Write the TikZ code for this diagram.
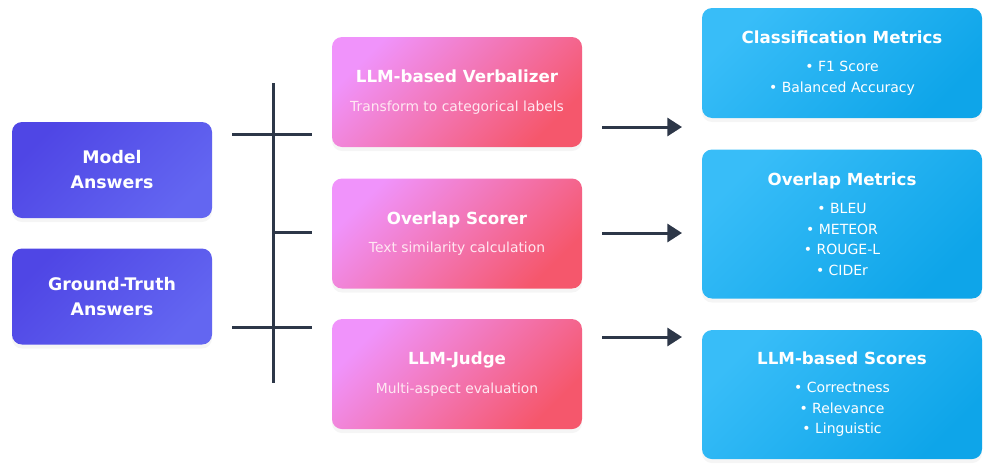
\documentclass[tikz,border=0pt]{standalone}
\usepackage{fontspec}
\setmainfont{DejaVu Sans}
\usetikzlibrary{positioning,arrows.meta,shadows}
\definecolor{inA}{HTML}{4F46E5}
\definecolor{inB}{HTML}{6366F1}
\definecolor{procA}{HTML}{F093FB}
\definecolor{procB}{HTML}{F5576C}
\definecolor{metA}{HTML}{38BDF8}
\definecolor{metB}{HTML}{0EA5E9}
\definecolor{subtxt}{RGB}{255,232,242}
\definecolor{linecol}{HTML}{2D3748}
\newcommand{\ttl}[1]{{\fontsize{12.5}{15}\selectfont\bfseries #1}}

\begin{document}
\begin{tikzpicture}[
  x=0.75pt, y=-0.75pt,
  node distance=23pt,
  every node/.style={font=\fontsize{10.4}{12}\selectfont, text=white},
  box/.style={rounded corners=7.5pt, align=center, inner sep=4pt,
    drop shadow={opacity=0.08, shadow xshift=0pt, shadow yshift=-3pt}},
  inbox/.style={box, left color=inA, right color=inB, shading angle=45,
    minimum width=150pt, minimum height=72pt, font=\fontsize{13}{18.75}\selectfont\bfseries},
  procbox/.style={box, left color=procA, right color=procB, shading angle=45,
    minimum width=187.5pt, minimum height=82.5pt},
  metbox/.style={box, left color=metA, right color=metB, shading angle=45,
    minimum width=210pt, font=\fontsize{10.5}{15.4}\selectfont},
  bus/.style={line width=2.25pt, linecol},
  arr/.style={-{Triangle[length=11pt, width=13.5pt]}, line width=2.25pt, linecol}
]
\useasboundingbox (0,0) rectangle (994,475);

% =================== inputs ===================
\node[inbox] (model) at (112,170) {Model\\Answers};
\node[inbox, below=22.5pt of model] (truth) {Ground-Truth\\Answers};

% =================== evaluators ===================
\node[procbox] (verb) at (457,92)
  {\ttl{LLM-based Verbalizer}\\[9.5pt]\color{subtxt}Transform to categorical labels};
\node[procbox, below=23.25pt of verb] (over)
  {\ttl{Overlap Scorer}\\[9.5pt]\color{subtxt}Text similarity calculation};
\node[procbox, below=22.5pt of over] (judge)
  {\ttl{LLM-Judge}\\[9.5pt]\color{subtxt}Multi-aspect evaluation};

% =================== metrics ===================
\node[metbox, minimum height=82.5pt] (cls) at (842,63)
  {\ttl{Classification Metrics}\\[5.6pt]• F1 Score\\• Balanced Accuracy};
\node[metbox, minimum height=111.75pt, below=23.25pt of cls] (olap)
  {\ttl{Overlap Metrics}\\[5.6pt]• BLEU\\• METEOR\\• ROUGE-L\\• CIDEr};
\node[metbox, minimum height=96.75pt, below=23.25pt of olap] (llms)
  {\ttl{LLM-based Scores}\\[5.6pt]• Correctness\\• Relevance\\• Linguistic};

% =================== fork lines ===================
\coordinate (bus top) at (273,83);
\coordinate (bus bot) at (273,383);
\coordinate (tap a) at (232,134);
\coordinate (feed a) at (312,134);
\coordinate (tap b) at (273,232);
\coordinate (feed b) at (312,232);
\coordinate (tap c) at (232,327);
\coordinate (feed c) at (312,327);
\draw[bus] (bus top) -- (bus bot);
\draw[bus] (tap a) -- (feed a);
\draw[bus] (tap b) -- (feed b);
\draw[bus] (tap c) -- (feed c);

% =================== arrows ===================
\coordinate (out a) at (602,127);
\coordinate (in a) at (682,127);
\coordinate (out b) at (602,233);
\coordinate (in b) at (682,233);
\coordinate (out c) at (602,337);
\coordinate (in c) at (682,337);
\draw[arr] (out a) -- (in a);
\draw[arr] (out b) -- (in b);
\draw[arr] (out c) -- (in c);

\end{tikzpicture}
\end{document}
